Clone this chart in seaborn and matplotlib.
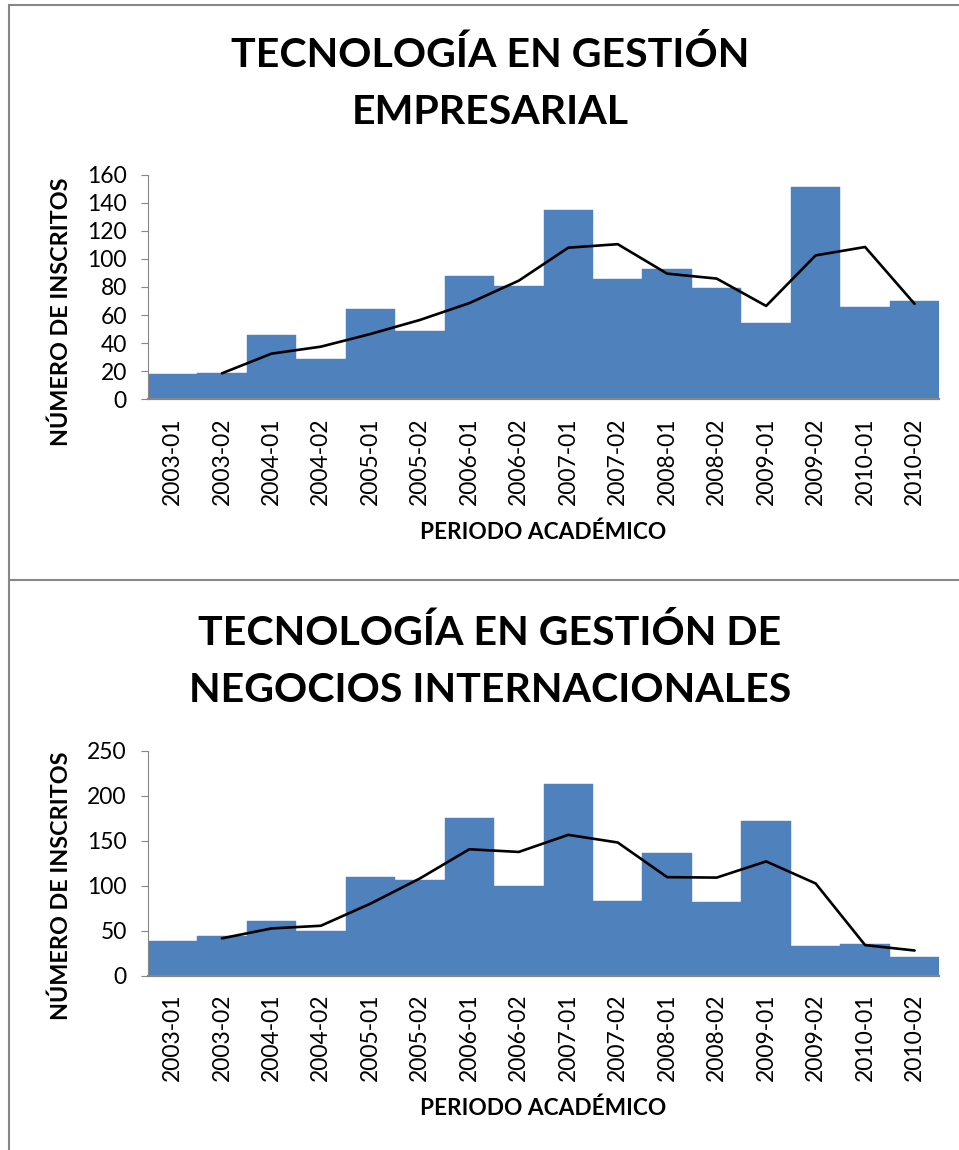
import numpy as np
import pandas as pd
import seaborn as sns
import matplotlib.pyplot as plt
from matplotlib.lines import Line2D

periods = ["2003-01", "2003-02", "2004-01", "2004-02", "2005-01", "2005-02",
           "2006-01", "2006-02", "2007-01", "2007-02", "2008-01", "2008-02",
           "2009-01", "2009-02", "2010-01", "2010-02"]

# Chart 1: Tecnología en Gestión Empresarial
emp_values = [18, 19, 46, 29, 64, 49, 88, 81, 135, 86, 93, 79, 54, 151, 66, 70]
emp_trend = [18.5, 32.5, 37.5, 46.5, 56.5, 68.5, 84.5, 108, 110.5, 89.5, 86, 66.5, 102.5, 108.5, 68]

# Chart 2: Tecnología en Gestión de Negocios Internacionales
neg_values = [39, 44, 61, 50, 110, 106, 175, 100, 213, 83, 136, 82, 172, 33, 35, 21]
neg_trend = [41.5, 52.5, 55.5, 80, 108, 140.5, 137.5, 156.5, 148, 109.5, 109, 127, 102.5, 34, 28]

titles = ["TECNOLOGÍA EN GESTIÓN\nEMPRESARIAL",
          "TECNOLOGÍA EN GESTIÓN DE\nNEGOCIOS INTERNACIONALES"]
ylabel = "NÚMERO DE INSCRITOS"
xlabel = "PERIODO ACADÉMICO"
ymax = [160, 250]
ystep = [20, 50]

sns.set_theme(style="white")
plt.rcParams['font.family'] = ['Lato', 'DejaVu Sans']

W, H = 959, 1150
fig = plt.figure(figsize=(W / 100, H / 100), dpi=100)

BAR = "#4F81BD"
AX = "#868686"

def px(x0, y0, x1, y1):
    # pixel box (top-left origin) -> figure fraction rect
    return [x0 / W, 1 - y1 / H, (x1 - x0) / W, (y1 - y0) / H]

boxes = [px(147.7, 174.7, 939.3, 399.3), px(147.7, 750.7, 939.3, 975.7)]
title_y = [(55, 112), (633, 690)]
ylab_y = [312, 886]
xlab_y = [532, 1108]

datasets = [(emp_values, emp_trend), (neg_values, neg_trend)]

for i, (vals, trend) in enumerate(datasets):
    ax = fig.add_axes(boxes[i])
    df = pd.DataFrame({"periodo": periods, "inscritos": vals})
    sns.barplot(data=df, x="periodo", y="inscritos", color=BAR, width=1.0,
                saturation=1, edgecolor=BAR, linewidth=0.3, ax=ax)
    tx = [periods.index(p) for p in periods[1:]]
    sns.lineplot(x=tx, y=trend, color="black", linewidth=1.9, ax=ax)
    ax.set_xlim(-0.5, len(periods) - 0.5)
    ax.set_ylim(0, ymax[i])
    ax.set_yticks(np.arange(0, ymax[i] + 1, ystep[i]))
    ax.set_xlabel("")
    ax.set_ylabel("")
    for s in ["top", "right"]:
        ax.spines[s].set_visible(False)
    ax.spines["left"].set_color(AX)
    ax.spines["left"].set_linewidth(0.8)
    ax.spines["bottom"].set_color(AX)
    ax.spines["bottom"].set_linewidth(1.6)
    ax.tick_params(axis="y", length=5, width=0.8, color=AX, labelsize=16.5,
                   pad=10, left=True, labelcolor="black")
    ax.tick_params(axis="x", length=0, labelsize=16.5, pad=13, labelcolor="black")
    for lab in ax.get_xticklabels():
        lab.set_rotation(90)
        lab.set_va("top")
        lab.set_ha("center")
    ax.patch.set_alpha(0)

    t1, t2 = titles[i].split("\n")
    fig.text(490 / W, 1 - title_y[i][0] / H, t1, ha="center", va="center",
             fontsize=29.6, fontweight="bold", color="black")
    fig.text(490 / W, 1 - title_y[i][1] / H, t2, ha="center", va="center",
             fontsize=29.6, fontweight="bold", color="black")
    fig.text(61 / W, 1 - ylab_y[i] / H, ylabel, rotation=90, ha="center",
             va="center", fontsize=16.8, fontweight="bold", color="black")
    fig.text(543 / W, 1 - xlab_y[i] / H, xlabel, ha="center", va="center",
             fontsize=16.3, fontweight="bold", color="black")

# chart-area frame lines
fr = "#878787"
fig.add_artist(Line2D([8.5 / W, 1], [1 - 4.5 / H, 1 - 4.5 / H], color=fr, lw=1.5,
                      transform=fig.transFigure))
fig.add_artist(Line2D([8.5 / W, 8.5 / W], [1 - 4.5 / H, 0], color=fr, lw=1.5,
                      transform=fig.transFigure))
fig.add_artist(Line2D([8.5 / W, 1], [1 - 579.5 / H, 1 - 579.5 / H], color=fr, lw=1.5,
                      transform=fig.transFigure))

fig.savefig("out.png", dpi=100)
